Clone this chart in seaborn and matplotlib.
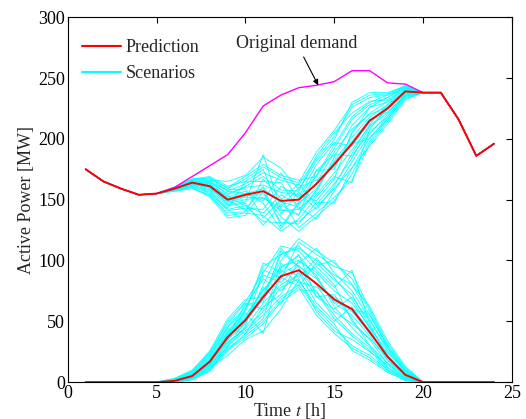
import numpy as np
import pandas as pd
import matplotlib
matplotlib.use("Agg")
import matplotlib.pyplot as plt
from matplotlib.lines import Line2D
import seaborn as sns

hours = np.arange(1, 25)

# original demand
demand = [175, 165, 159, 154, 155, 160, 169, 178, 187, 205, 227, 236,
          242, 244, 247, 256, 256, 246, 245, 238, 238, 216, 186, 196]

# wind prediction (lower red curve)
wind_pred = [0, 0, 0, 0, 0, 1, 5, 17, 37, 51, 70, 87,
             92, 81, 68, 60, 41, 21, 6, 0, 0, 0, 0, 0]

# wind scenarios for hours 6..19 (zero outside)
scen_hours = list(range(6, 20))
wind_scen = [
    [2, 8, 22, 45, 60, 95, 105, 110, 100, 88, 80, 55, 30, 10],
    [0, 3, 12, 30, 42, 55, 70, 80, 60, 45, 30, 22, 10, 2],
    [1, 6, 18, 40, 55, 75, 95, 100, 90, 75, 65, 45, 25, 8],
    [3, 9, 25, 48, 65, 60, 85, 115, 105, 95, 90, 60, 32, 12],
    [0, 2, 10, 28, 38, 50, 68, 78, 55, 40, 28, 20, 9, 1],
    [1, 5, 15, 35, 48, 80, 110, 95, 85, 65, 55, 38, 18, 5],
    [2, 7, 20, 42, 58, 98, 90, 105, 70, 60, 70, 50, 28, 9],
    [0, 4, 14, 32, 45, 65, 80, 88, 95, 80, 50, 35, 15, 4],
    [1, 6, 19, 38, 52, 72, 100, 118, 108, 98, 85, 58, 30, 11],
    [0, 3, 11, 27, 36, 48, 66, 76, 75, 55, 40, 28, 12, 3],
    [2, 8, 23, 46, 62, 85, 75, 90, 65, 50, 62, 42, 22, 7],
    [1, 5, 16, 36, 50, 68, 88, 98, 110, 90, 75, 52, 26, 8],
    [0, 4, 13, 33, 44, 58, 78, 85, 58, 42, 35, 25, 14, 3],
    [3, 10, 24, 50, 66, 90, 112, 108, 92, 78, 92, 48, 20, 6],
    [1, 6, 17, 39, 53, 76, 92, 82, 78, 70, 58, 40, 24, 10],
    [0, 2, 9, 26, 40, 62, 72, 100, 88, 62, 45, 30, 16, 4],
    [1, 4, 12, 22, 35, 42, 60, 84, 62, 48, 26, 18, 8, 2],
    [2, 9, 26, 52, 68, 70, 105, 112, 96, 100, 80, 62, 34, 13],
    [0, 5, 16, 34, 60, 88, 82, 96, 80, 58, 48, 36, 20, 5],
    [1, 7, 21, 44, 40, 52, 98, 86, 102, 86, 68, 44, 18, 6],
    [0, 3, 10, 30, 50, 78, 64, 92, 70, 72, 52, 30, 12, 2],
    [2, 6, 18, 41, 57, 40, 94, 104, 86, 66, 60, 56, 28, 9],
    [1, 5, 14, 29, 46, 92, 86, 79, 98, 84, 72, 46, 22, 7],
    [0, 4, 15, 37, 64, 66, 108, 94, 74, 52, 38, 26, 10, 3],
]

sns.set_theme(style="white")
plt.rcParams["font.family"] = ["Liberation Serif", "DejaVu Serif"]
plt.rcParams["xtick.direction"] = "in"
plt.rcParams["ytick.direction"] = "in"
plt.rcParams["mathtext.fontset"] = "stix"

demand = np.array(demand, dtype=float)
wind_pred = np.array(wind_pred, dtype=float)

# long tables: wind scenarios and net load (demand minus wind)
rows = []
for k, sc in enumerate(wind_scen):
    w = np.zeros(24)
    w[np.array(scen_hours) - 1] = sc
    for h, wv, nv in zip(hours, w, demand - w):
        rows.append((k, h, wv, nv))
df = pd.DataFrame(rows, columns=["scen", "hour", "wind", "net"])

fig, ax = plt.subplots(figsize=(5.26, 4.19), dpi=100)
fig.subplots_adjust(left=0.129, right=0.973, top=0.959, bottom=0.088)

for col in ["wind", "net"]:
    sns.lineplot(data=df, x="hour", y=col, units="scen", estimator=None,
                 color="#00ffff", lw=0.7, alpha=0.85, ax=ax, legend=False)

sns.lineplot(x=hours, y=demand, color="#ff00ff", lw=1.0, ax=ax)
sns.lineplot(x=hours, y=demand - wind_pred, color="#ff0000", lw=1.4, ax=ax)
sns.lineplot(x=hours, y=wind_pred, color="#ff0000", lw=1.4, ax=ax)

ax.set_xlim(0, 25)
ax.set_ylim(0, 300)
ax.set_xticks(range(0, 26, 5))
ax.set_yticks(range(0, 301, 50))
ax.tick_params(labelsize=13, top=True, right=True, length=4, width=0.8,
               colors="black", pad=2)
for s in ax.spines.values():
    s.set_color("black")
    s.set_linewidth(0.8)

ax.set_xlabel("Time $t$ [h]", fontsize=13, labelpad=-1)
ax.set_ylabel("Active Power [MW]", fontsize=13, labelpad=2)

ax.annotate("Original demand", xy=(14.1, 244), xytext=(12.9, 271),
            ha="center", va="bottom", fontsize=13,
            arrowprops=dict(arrowstyle="-|>", color="black", lw=0.8,
                            mutation_scale=8, shrinkA=1, shrinkB=0))

handles = [Line2D([], [], color="#ff0000", lw=1.5),
           Line2D([], [], color="#00ffff", lw=1.5)]
ax.legend(handles, ["Prediction", "Scenarios"], loc="upper left",
          bbox_to_anchor=(-0.018, 1.0), frameon=False, fontsize=13,
          handlelength=2.2, borderaxespad=0.8, labelspacing=0.5,
          handletextpad=0.25)

fig.savefig("out.png", dpi=100)
